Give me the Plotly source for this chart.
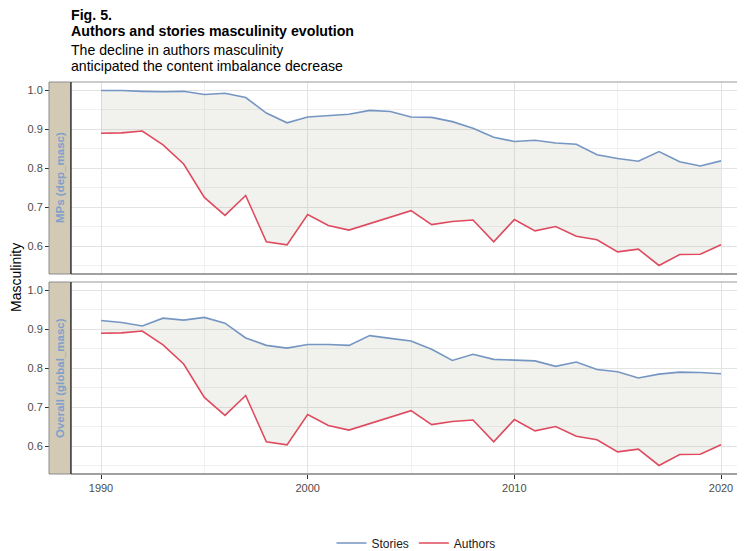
import plotly.graph_objects as go

years = list(range(1990, 2021))

stories_mps = [1.000, 1.000, 0.998, 0.997, 0.998, 0.990, 0.993, 0.982, 0.942, 0.917,
               0.932, 0.936, 0.939, 0.949, 0.946, 0.932, 0.931, 0.920, 0.903, 0.880,
               0.869, 0.872, 0.865, 0.862, 0.835, 0.825, 0.818, 0.843, 0.817, 0.806, 0.819]

stories_overall = [0.923, 0.918, 0.909, 0.929, 0.924, 0.931, 0.916, 0.878, 0.859, 0.852,
                   0.861, 0.861, 0.859, 0.884, 0.877, 0.870, 0.849, 0.820, 0.836, 0.823,
                   0.821, 0.819, 0.805, 0.816, 0.797, 0.791, 0.775, 0.785, 0.790, 0.789, 0.786]

authors = [0.890, 0.891, 0.896, 0.860, 0.811, 0.725, 0.679, 0.730, 0.611, 0.603,
           0.681, 0.653, 0.641, 0.657, 0.674, 0.691, 0.655, 0.663, 0.667, 0.611,
           0.668, 0.639, 0.650, 0.625, 0.616, 0.585, 0.592, 0.550, 0.578, 0.579, 0.603]

panels = ["MPs (dep_masc)", "Overall (global_masc)"]
series_names = ["Stories", "Authors"]

BLUE = "#7596C3"
RED = "#DE4B5E"
RIBBON = "rgba(170,165,140,0.16)"
STRIP = "#D3CAB5"

OFF = 8  # page body margin offset
W, H = 745 - OFF, 551 - OFF
L_ref, T_ref, B_ref = 49, 82, 474
L = L_ref - OFF
T = T_ref - OFF
R = 0
B = H - (B_ref - OFF)
plot_w = W - L - R
plot_h = H - T - B

def px_x(p):
    return (p - OFF - L) / plot_w

def px_y(p):
    return (B_ref - p) / plot_h

x_dom = [px_x(71), 1.0]
top_dom = [px_y(274), 1.0]
bot_dom = [0.0, px_y(282)]

fig = go.Figure()

panel_stories = [stories_mps, stories_overall]
axes = [("x", "y"), ("x2", "y2")]
for i, (xa, ya) in enumerate(axes):
    fig.add_trace(go.Scatter(x=years, y=authors, xaxis=xa, yaxis=ya, mode="lines",
                             line=dict(width=0), showlegend=False, hoverinfo="skip"))
    fig.add_trace(go.Scatter(x=years, y=panel_stories[i], xaxis=xa, yaxis=ya, mode="lines",
                             line=dict(width=0), fill="tonexty", fillcolor=RIBBON,
                             showlegend=False, hoverinfo="skip"))
    fig.add_trace(go.Scatter(x=years, y=panel_stories[i], xaxis=xa, yaxis=ya, mode="lines",
                             line=dict(color=BLUE, width=1.6), name=series_names[0],
                             legendgroup="s", showlegend=(i == 0)))
    fig.add_trace(go.Scatter(x=years, y=authors, xaxis=xa, yaxis=ya, mode="lines",
                             line=dict(color=RED, width=1.6), name=series_names[1],
                             legendgroup="a", showlegend=(i == 0)))

upp = 30 / 620
xrange = [1990 - (101 - 71) * upp, 2020 + (745 - 721) * upp]
yrange = [0.528, 1.022]
grid_major = "#E3E3E3"
grid_minor = "#F0F0F0"
tickfont = dict(family="Liberation Sans, Arial", size=11, color="#4D4D4D")

xcommon = dict(range=xrange, domain=x_dom, tickvals=[1990, 2000, 2010, 2020],
               showgrid=True, gridcolor=grid_major, gridwidth=1, zeroline=False,
               minor=dict(tickvals=[1995, 2005, 2015], showgrid=True, gridcolor=grid_minor, gridwidth=1))
ycommon = dict(range=yrange, anchor="free", position=0, tickvals=[0.6, 0.7, 0.8, 0.9, 1.0],
               ticktext=["0.6", "0.7", "0.8", "0.9", "1.0"],
               ticks="outside", ticklen=4, tickcolor="#333333", tickwidth=1,
               tickfont=tickfont,
               showgrid=True, gridcolor=grid_major, gridwidth=1, zeroline=False, showline=False,
               minor=dict(tickvals=[0.55, 0.65, 0.75, 0.85, 0.95], showgrid=True,
                          gridcolor=grid_minor, gridwidth=1))

fig.update_layout(
    width=W, height=H,
    margin=dict(l=L, r=R, t=T, b=B, autoexpand=False),
    paper_bgcolor="white", plot_bgcolor="white",
    font=dict(family="Liberation Sans, Arial", color="#000000"),
    xaxis=dict(anchor="y", showticklabels=False, ticks="", **xcommon),
    yaxis=dict(domain=top_dom, **ycommon),
    xaxis2=dict(anchor="y2", ticks="outside", ticklen=4, tickcolor="#333333",
                tickfont=tickfont, **xcommon),
    yaxis2=dict(domain=bot_dom, **ycommon),
    legend=dict(orientation="h", x=px_x(416), xanchor="center", y=px_y(543), yanchor="middle",
                font=dict(size=12, color="#1A1A1A"), bgcolor="rgba(0,0,0,0)"),
    showlegend=True,
)

shapes = []
annotations = []
for dom, label in zip([top_dom, bot_dom], panels):
    y0, y1 = dom
    shapes.append(dict(type="rect", xref="paper", yref="paper", x0=px_x(49), x1=px_x(70.5),
                       y0=y0, y1=y1, fillcolor=STRIP, line=dict(color="#8C8C8C", width=1),
                       layer="above"))
    shapes.append(dict(type="line", xref="paper", yref="paper", x0=x_dom[0], x1=1.01, y0=y1, y1=y1,
                       line=dict(color="#999999", width=1.2), layer="above"))
    shapes.append(dict(type="line", xref="paper", yref="paper", x0=x_dom[0], x1=1.01, y0=y0, y1=y0,
                       line=dict(color="#808080", width=1.4), layer="above"))
    shapes.append(dict(type="line", xref="paper", yref="paper", x0=x_dom[0], x1=x_dom[0], y0=y0, y1=y1,
                       line=dict(color="#333333", width=1.4), layer="above"))
    annotations.append(dict(text="<b>" + label + "</b>", xref="paper", yref="paper",
                            x=px_x(60), y=(y0 + y1) / 2, textangle=-90, showarrow=False,
                            xanchor="center", yanchor="middle",
                            font=dict(size=11.5, color="#7EA0CB", family="Liberation Sans, Arial")))

annotations += [
    dict(text="<b>Fig. 5.</b>", xref="paper", yref="paper", x=px_x(69), y=px_y(15),
         xanchor="left", yanchor="middle", showarrow=False, font=dict(size=14.2, color="#000")),
    dict(text="<b>Authors and stories masculinity evolution</b>", xref="paper", yref="paper",
         x=px_x(69), y=px_y(31), xanchor="left", yanchor="middle", showarrow=False,
         font=dict(size=14.2, color="#000")),
    dict(text="The decline in authors masculinity", xref="paper", yref="paper",
         x=px_x(69), y=px_y(50), xanchor="left", yanchor="middle", showarrow=False,
         font=dict(size=14.1, color="#000")),
    dict(text="anticipated the content imbalance decrease", xref="paper", yref="paper",
         x=px_x(69), y=px_y(66), xanchor="left", yanchor="middle", showarrow=False,
         font=dict(size=14.1, color="#000")),
    dict(text="Masculinity", xref="paper", yref="paper", x=px_x(16), y=px_y(278),
         xanchor="center", yanchor="middle", textangle=-90, showarrow=False,
         font=dict(size=14, color="#000")),
]

fig.update_layout(shapes=shapes, annotations=annotations)
fig.write_html("out.html")
